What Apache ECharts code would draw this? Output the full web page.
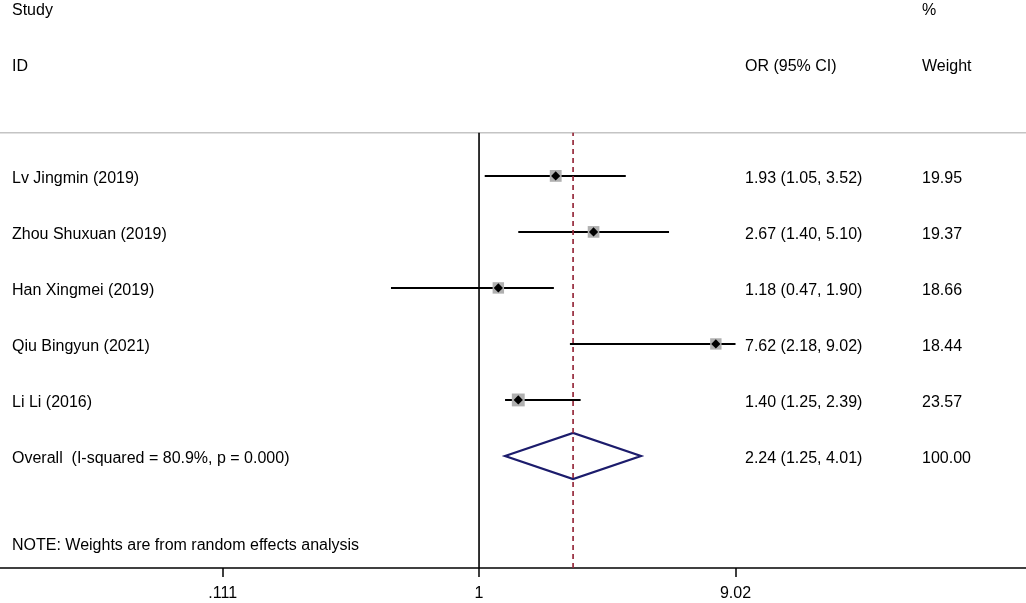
<!DOCTYPE html>
<html>
<head>
<meta charset="utf-8">
<script src="https://cdn.jsdelivr.net/npm/echarts@6/dist/echarts.min.js"></script>
<style>
  html, body { margin: 0; padding: 0; background: #fff; }
  #main { width: 1026px; height: 603px; }
</style>
</head>
<body>
<div id="main"></div>
<script>
// forest plot data
var studies = ['Lv Jingmin (2019)', 'Zhou Shuxuan (2019)', 'Han Xingmei (2019)', 'Qiu Bingyun (2021)', 'Li Li (2016)'];
var orVals = [1.93, 2.67, 1.18, 7.62, 1.40];
var ciLow = [1.05, 1.40, 0.47, 2.18, 1.25];
var ciHigh = [3.52, 5.10, 1.90, 9.02, 2.39];
var weights = [19.95, 19.37, 18.66, 18.44, 23.57];

var overallLabel = 'Overall  (I-squared = 80.9%, p = 0.000)';
var overallOR = 2.24;
var overallLow = 1.25;
var overallHigh = 4.01;
var overallWeight = 100.00;

var noteText = 'NOTE: Weights are from random effects analysis';
var tickVals = [0.111, 1, 9.02];
var tickLabels = ['.111', '1', '9.02'];

// row positions (y axis units, one row per unit)
var studyRows = [7, 6, 5, 4, 3];
var overallRow = 2;
var headRow1 = 10, headRow2 = 9, sepRow = 7.77, noteRow = 0.46;

// column positions on the hidden pixel-like axis
var colName = 12, colOR = 745, colWt = 922;

function lg(v) { return Math.log(v) / Math.LN10; }
function fmt(v) { return v.toFixed(2); }

var forestData = [];
for (var i = 0; i < studies.length; i++) {
  forestData.push([lg(ciLow[i]), lg(ciHigh[i]), lg(orVals[i]), studyRows[i], weights[i]]);
}

var textData = [
  [colName, headRow1, 'Study'],
  [colName, headRow2, 'ID'],
  [colOR, headRow2, 'OR (95% CI)'],
  [colWt, headRow1, '%'],
  [colWt, headRow2, 'Weight'],
  [colName, noteRow, noteText]
];
for (var i = 0; i < studies.length; i++) {
  textData.push([colName, studyRows[i], studies[i]]);
  textData.push([colOR, studyRows[i], fmt(orVals[i]) + ' (' + fmt(ciLow[i]) + ', ' + fmt(ciHigh[i]) + ')']);
  textData.push([colWt, studyRows[i], fmt(weights[i])]);
}
textData.push([colName, overallRow, overallLabel]);
textData.push([colOR, overallRow, fmt(overallOR) + ' (' + fmt(overallLow) + ', ' + fmt(overallHigh) + ')']);
textData.push([colWt, overallRow, fmt(overallWeight)]);

var fontFam = '"Liberation Sans", Arial, sans-serif';
var chart = echarts.init(document.getElementById('main'));
var option = {
  animation: false,
  grid: { left: 0, right: 0, top: 0, bottom: 35 },
  xAxis: [
    {
      type: 'value',
      min: -1.784,
      max: 2.037,
      splitLine: { show: false },
      axisLine: { show: true, onZero: false, lineStyle: { color: '#000', width: 1.5 } },
      axisTick: { show: true, length: 9, lineStyle: { color: '#000', width: 1.5 }, customValues: tickVals.map(lg) },
      axisLabel: {
        fontFamily: fontFam, fontSize: 16, color: '#000', margin: 18,
        customValues: tickVals.map(lg),
        formatter: function (v) {
          for (var k = 0; k < tickVals.length; k++) {
            if (Math.abs(lg(tickVals[k]) - v) < 1e-6) return tickLabels[k];
          }
          return '';
        }
      }
    },
    { type: 'value', min: 0, max: 1026, show: false }
  ],
  yAxis: { type: 'value', min: 0, max: 10.14, show: false },
  series: [
    {
      // gray separator under the header
      type: 'line', xAxisIndex: 1, symbol: 'none', silent: true,
      lineStyle: { color: '#c4c4c4', width: 1.5 },
      data: [[0, sepRow], [1026, sepRow]]
    },
    {
      // line of no effect
      type: 'line', symbol: 'none', silent: true,
      lineStyle: { color: '#000', width: 1.6 },
      data: [[lg(1), 0], [lg(1), sepRow]]
    },
    {
      type: 'custom',
      data: forestData,
      renderItem: function (params, api) {
        var y = api.value(3);
        var lo = api.coord([api.value(0), y]);
        var hi = api.coord([api.value(1), y]);
        var mid = api.coord([api.value(2), y]);
        var s = Math.sqrt(api.value(4)) * 2.65;
        var d = 4.6;
        return {
          type: 'group',
          children: [
            { type: 'line', shape: { x1: lo[0], y1: lo[1], x2: hi[0], y2: hi[1] }, style: { stroke: '#000', lineWidth: 2 } },
            { type: 'rect', shape: { x: mid[0] - s / 2, y: mid[1] - s / 2, width: s, height: s }, style: { fill: '#b0b0b0' } },
            { type: 'polygon', shape: { points: [[mid[0], mid[1] - d], [mid[0] + d, mid[1]], [mid[0], mid[1] + d], [mid[0] - d, mid[1]]] }, style: { fill: '#000' } }
          ]
        };
      }
    },
    {
      // pooled estimate diamond
      type: 'custom',
      data: [[lg(overallLow), lg(overallHigh), lg(overallOR), overallRow]],
      renderItem: function (params, api) {
        var y = api.value(3);
        var lo = api.coord([api.value(0), y]);
        var hi = api.coord([api.value(1), y]);
        var mid = api.coord([api.value(2), y]);
        var h = 23;
        return {
          type: 'polygon',
          shape: { points: [[lo[0], lo[1]], [mid[0], mid[1] - h], [hi[0], hi[1]], [mid[0], mid[1] + h]] },
          style: { fill: 'none', stroke: '#1c1c6c', lineWidth: 2.2 }
        };
      }
    },
    {
      // dashed line at the pooled estimate
      type: 'line', symbol: 'none', silent: true, z: 5,
      lineStyle: { color: '#962a3c', width: 1.7, type: [5, 4] },
      data: [[lg(overallOR), 0], [lg(overallOR), sepRow]]
    },
    {
      type: 'scatter', xAxisIndex: 1, symbolSize: 0, silent: true,
      itemStyle: { opacity: 1 },
      data: textData,
      label: {
        show: true, position: [0, 3], align: 'left', verticalAlign: 'middle',
        fontFamily: fontFam, fontSize: 16, color: '#000', opacity: 1,
        formatter: function (p) { return p.data[2]; }
      }
    }
  ]
};
chart.setOption(option);
</script>
</body>
</html>
